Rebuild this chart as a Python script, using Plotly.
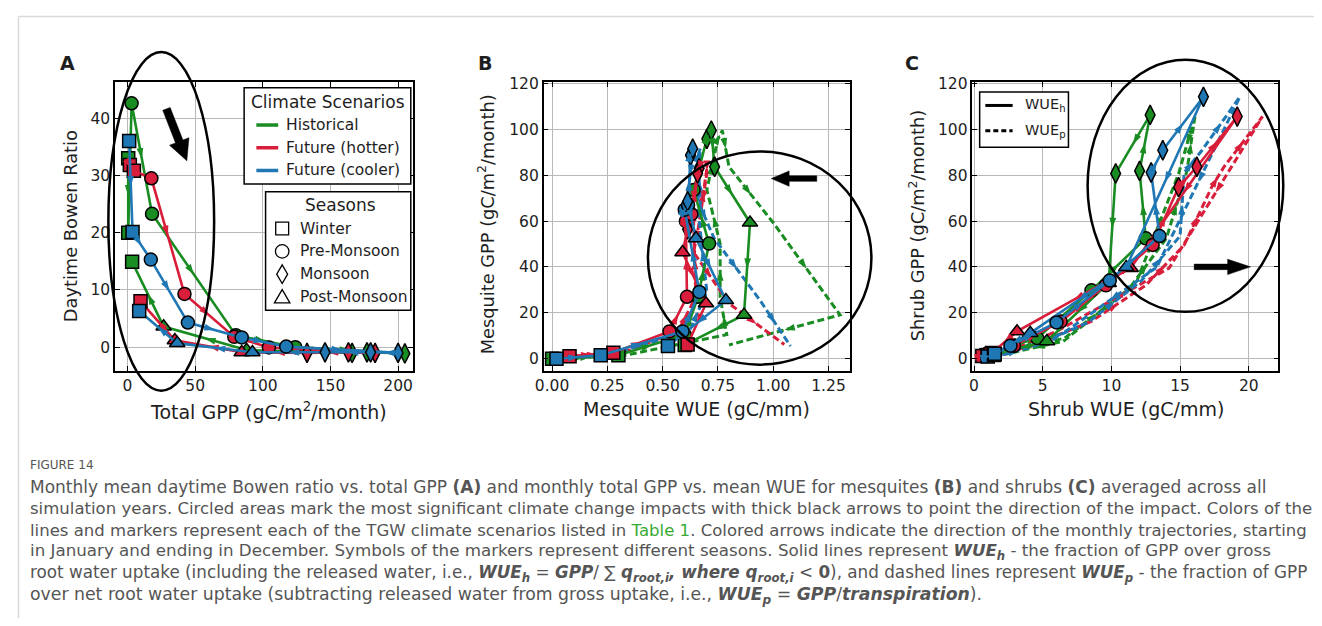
import math
import plotly.graph_objects as go

# page is drawn with the browser's default 8px body margin: build the figure to fill the rest
OX, OY = 8.0, 8.0
FW, FH = 1314, 610

# ---------------- data ----------------
MONTHS = ['Jan', 'Feb', 'Mar', 'Apr', 'May', 'Jun', 'Jul', 'Aug', 'Sep', 'Oct', 'Nov', 'Dec']
SEASONS = ['Winter', 'Winter', 'Pre-Monsoon', 'Pre-Monsoon', 'Pre-Monsoon', 'Pre-Monsoon',
           'Monsoon', 'Monsoon', 'Monsoon', 'Post-Monsoon', 'Post-Monsoon', 'Winter']
SEASON_NAMES = ['Winter', 'Pre-Monsoon', 'Monsoon', 'Post-Monsoon']
SCENARIOS = ['Historical', 'Future (hotter)', 'Future (cooler)']
COLORS = ['#198c22', '#d81e3a', '#1f77b4']

# Panel A: total GPP (x) vs daytime Bowen ratio (y)
a_gpp_hist = [0.5, 0.5, 3.0, 18.1, 80.0, 124.0, 205.0, 177.0, 166.0, 88.0, 26.7, 3.4]
a_bowen_hist = [33.0, 20.0, 42.6, 23.3, 2.1, 0.0, -1.1, -0.9, -1.0, -0.5, 3.6, 14.9]
a_gpp_hot = [1.7, 4.7, 17.6, 42.1, 78.9, 104.5, 183.0, 163.3, 132.7, 84.4, 35.0, 9.6]
a_bowen_hot = [31.8, 30.8, 29.5, 9.3, 1.8, -0.05, -1.0, -0.9, -1.0, -0.9, 1.2, 8.0]
a_gpp_cool = [1.2, 3.7, 17.2, 44.6, 84.4, 117.3, 200.0, 179.7, 146.0, 92.3, 36.7, 8.6]
a_bowen_cool = [36.0, 20.1, 15.3, 4.3, 1.7, 0.1, -1.0, -0.9, -0.9, -0.9, 0.7, 6.3]

# Panel B: mesquite WUE (h: solid, p: dashed) vs mesquite GPP
b_gpp_hist = [0.0, 1.5, 10.5, 27.0, 50.2, 73.6, 95.9, 99.5, 83.7, 59.3, 19.1, 6.0]
b_wueh_hist = [0.00, 0.30, 0.60, 0.66, 0.71, 0.64, 0.70, 0.72, 0.735, 0.895, 0.868, 0.60]
b_wuep_hist = [0.02, 0.33, 0.79, 0.76, 0.76, 0.70, 0.75, 0.77, 0.80, 1.00, 1.302, 0.80]
b_gpp_hot = [1.1, 2.6, 11.9, 27.0, 60.0, 63.0, 83.0, 80.8, 56.4, 46.4, 24.1, 6.2]
b_wueh_hot = [0.079, 0.277, 0.531, 0.61, 0.605, 0.63, 0.665, 0.658, 0.613, 0.59, 0.696, 0.613]
b_wuep_hot = [0.09, 0.32, 0.57, 0.65, 0.64, 0.67, 0.70, 0.70, 0.66, 0.64, 0.80, 1.05]
b_gpp_cool = [0.0, 1.5, 11.9, 29.1, 65.0, 67.0, 88.7, 91.6, 68.6, 52.5, 25.5, 5.5]
b_wueh_cool = [0.02, 0.22, 0.59, 0.666, 0.60, 0.615, 0.626, 0.636, 0.613, 0.651, 0.786, 0.524]
b_wuep_cool = [0.03, 0.25, 0.62, 0.70, 0.66, 0.67, 0.66, 0.67, 0.66, 0.733, 0.94, 1.078]

# Panel C: shrub WUE (h: solid, p: dashed) vs shrub GPP
c_gpp_hist = [1.5, 2.5, 5.8, 9.0, 29.8, 52.5, 81.9, 106.3, 80.8, 33.0, 7.6, 2.0]
c_wueh_hist = [0.9, 1.3, 2.9, 4.6, 8.55, 12.5, 12.05, 12.82, 10.31, 9.8, 5.3, 1.5]
c_wuep_hist = [1.4, 2.2, 4.4, 6.6, 11.2, 14.0, 15.5, 16.1, 14.9, 11.8, 6.5, 2.3]
c_gpp_hot = [1.2, 1.6, 5.7, 16.2, 32.0, 49.6, 74.8, 83.7, 105.6, 39.5, 11.9, 2.0]
c_wueh_hot = [0.6, 1.0, 2.9, 6.3, 9.6, 13.0, 14.89, 16.22, 19.16, 11.4, 3.13, 1.2]
c_wuep_hot = [0.9, 1.6, 4.2, 8.5, 12.5, 15.3, 17.3, 18.2, 21.0, 14.2, 6.0, 2.0]
c_gpp_cool = [1.0, 1.6, 5.7, 15.8, 34.1, 53.5, 81.2, 90.9, 114.2, 39.9, 11.2, 2.2]
c_wueh_cool = [1.0, 1.45, 2.65, 6.0, 9.88, 13.5, 12.89, 13.74, 16.7, 11.08, 4.09, 1.5]
c_wuep_cool = [1.3, 2.0, 4.5, 8.3, 12.2, 15.0, 15.3, 16.6, 19.35, 13.3, 6.5, 2.2]

A_TICKS_X = [0, 50, 100, 150, 200]
A_TICKS_Y = [0, 10, 20, 30, 40]
B_TICKS_X = [0.0, 0.25, 0.5, 0.75, 1.0, 1.25]
GPP_TICKS = [0, 20, 40, 60, 80, 100, 120]
C_TICKS_X = [0, 5, 10, 15, 20]

# ---------------- styles ----------------
SYMBOL = {'Winter': 'square', 'Pre-Monsoon': 'circle', 'Monsoon': 'diamond-tall', 'Post-Monsoon': 'triangle-up'}
MSIZE = {'Winter': 13, 'Pre-Monsoon': 13, 'Monsoon': 14, 'Post-Monsoon': 13.5}
DASH = '7px,3.5px'
TXT = '#1e1e1e'
FONT = 'DejaVu Sans'


def PX(x):
    return (x - OX) / FW


def PY(y):
    return 1 - (y - OY) / FH


fig = go.Figure()


def add_traj(x, y, color, xa, ya, dash='solid', markers=True):
    fig.add_trace(go.Scatter(
        x=x, y=y, mode='lines+markers' if markers else 'lines',
        line=dict(color=color, width=3 if dash != 'solid' else 2.6, dash=dash),
        marker=dict(symbol=[SYMBOL[s] for s in SEASONS], size=[MSIZE[s] for s in SEASONS],
                    color=color, opacity=1, line=dict(color='black', width=1.5)),
        opacity=1, xaxis=xa, yaxis=ya, showlegend=False, hoverinfo='skip'))
    ax, ay, sz = [], [], []
    for i in range(len(x) - 1):
        ax += [x[i], (x[i] + x[i + 1]) / 2]
        ay += [y[i], (y[i] + y[i + 1]) / 2]
        sz += [0, 11]
    fig.add_trace(go.Scatter(
        x=ax, y=ay, mode='markers',
        marker=dict(symbol='arrow', size=sz, color=color, opacity=1, angleref='previous', line=dict(width=0)),
        xaxis=xa, yaxis=ya, showlegend=False, hoverinfo='skip'))


# Panel A
for gx, by, col in [(a_gpp_hist, a_bowen_hist, COLORS[0]), (a_gpp_hot, a_bowen_hot, COLORS[1]),
                    (a_gpp_cool, a_bowen_cool, COLORS[2])]:
    add_traj(gx, by, col, 'x', 'y')

# Panel B: dashed first, then solid
for wp, gy, col in [(b_wuep_hist, b_gpp_hist, COLORS[0]), (b_wuep_hot, b_gpp_hot, COLORS[1]),
                    (b_wuep_cool, b_gpp_cool, COLORS[2])]:
    add_traj(wp, gy, col, 'x2', 'y2', dash=DASH, markers=False)
for wh, gy, col in [(b_wueh_hist, b_gpp_hist, COLORS[0]), (b_wueh_hot, b_gpp_hot, COLORS[1]),
                    (b_wueh_cool, b_gpp_cool, COLORS[2])]:
    add_traj(wh, gy, col, 'x2', 'y2')

# Panel C
for wp, gy, col in [(c_wuep_hist, c_gpp_hist, COLORS[0]), (c_wuep_hot, c_gpp_hot, COLORS[1]),
                    (c_wuep_cool, c_gpp_cool, COLORS[2])]:
    add_traj(wp, gy, col, 'x3', 'y3', dash=DASH, markers=False)
for wh, gy, col in [(c_wueh_hist, c_gpp_hist, COLORS[0]), (c_wueh_hot, c_gpp_hot, COLORS[1]),
                    (c_wueh_cool, c_gpp_cool, COLORS[2])]:
    add_traj(wh, gy, col, 'x3', 'y3')

# ---------------- axes ----------------
ax_common = dict(showline=True, linecolor='black', linewidth=1.5, mirror='ticks', ticks='inside',
                 ticklen=5, tickwidth=1.2, tickcolor='black', showgrid=True, gridcolor='#b8b8b8',
                 gridwidth=1, zeroline=False, tickfont=dict(family=FONT, size=15.5, color=TXT))

ydom = [PY(368), PY(76)]
fig.update_layout(
    xaxis=dict(ax_common, domain=[PX(106.7), PX(406.7)], range=[-9.25, 211.0], anchor='y',
               tickvals=A_TICKS_X),
    yaxis=dict(ax_common, domain=ydom, range=[-4.14, 46.28], anchor='x', tickvals=A_TICKS_Y),
    xaxis2=dict(ax_common, domain=[PX(538.3), PX(846.7)], range=[-0.038, 1.347], anchor='y2',
                tickvals=B_TICKS_X, tickformat='.2f'),
    yaxis2=dict(ax_common, domain=ydom, range=[-5.3, 120.56], anchor='x2', tickvals=GPP_TICKS),
    xaxis3=dict(ax_common, domain=[PX(970.0), PX(1278.0)], range=[-0.12, 22.15], anchor='y3',
                tickvals=C_TICKS_X),
    yaxis3=dict(ax_common, domain=ydom, range=[-5.3, 120.56], anchor='x3', tickvals=GPP_TICKS),
)

# ---------------- shapes ----------------
shapes = []
# card border
shapes.append(dict(type='line', xref='paper', yref='paper', x0=PX(9.5), x1=PX(1340), y0=PY(9.5), y1=PY(9.5),
                   line=dict(color='#d9d9d9', width=1.5)))
shapes.append(dict(type='line', xref='paper', yref='paper', x0=PX(9.5), x1=PX(9.5), y0=PY(9.5), y1=PY(660),
                   line=dict(color='#d9d9d9', width=1.5)))


def ellipse(x0, y0, x1, y1):
    shapes.append(dict(type='circle', xref='paper', yref='paper', x0=PX(x0), x1=PX(x1), y0=PY(y1), y1=PY(y0),
                       line=dict(color='black', width=2.5), layer='above'))


ellipse(100.0, 45.5, 206.5, 388.0)
ellipse(643.3, 146.0, 868.3, 361.7)
ellipse(1086.0, 53.3, 1283.0, 308.3)


def big_arrow(tail, tip, shw, hhw, hl):
    dx, dy = tip[0] - tail[0], tip[1] - tail[1]
    L = math.hypot(dx, dy)
    ux, uy = dx / L, dy / L
    nx, ny = -uy, ux
    nk = (tip[0] - ux * hl, tip[1] - uy * hl)
    pts = [(tail[0] + nx * shw, tail[1] + ny * shw), (nk[0] + nx * shw, nk[1] + ny * shw),
           (nk[0] + nx * hhw, nk[1] + ny * hhw), tip,
           (nk[0] - nx * hhw, nk[1] - ny * hhw), (nk[0] - nx * shw, nk[1] - ny * shw),
           (tail[0] - nx * shw, tail[1] - ny * shw)]
    path = 'M ' + ' L '.join(f'{PX(px):.5f},{PY(py):.5f}' for px, py in pts) + ' Z'
    shapes.append(dict(type='path', xref='paper', yref='paper', path=path, fillcolor='black',
                       line=dict(color='black', width=0.5), layer='above'))


big_arrow((158.5, 103.0), (179.0, 155.5), 4.0, 10.5, 21.0)
big_arrow((813.3, 173.5), (767.5, 173.5), 2.8, 7.8, 18.0)
big_arrow((1193.3, 262.8), (1250.0, 262.8), 2.8, 7.8, 23.0)


def box(x0, y0, x1, y1):
    shapes.append(dict(type='rect', xref='paper', yref='paper', x0=PX(x0), x1=PX(x1), y0=PY(y1), y1=PY(y0),
                       line=dict(color='black', width=1.5), fillcolor='white', layer='above'))


def hline(x0, x1, y, color, width, dash='solid'):
    shapes.append(dict(type='line', xref='paper', yref='paper', x0=PX(x0), x1=PX(x1), y0=PY(y), y1=PY(y),
                       line=dict(color=color, width=width, dash=dash), layer='above'))


annotations = []


def text(x, y, s, size=15, xanchor='left', family=FONT, color=TXT, angle=0, yanchor='middle'):
    annotations.append(dict(x=PX(x), y=PY(y), xref='paper', yref='paper', text=s, showarrow=False,
                            xanchor=xanchor, yanchor=yanchor, textangle=angle, borderpad=0,
                            font=dict(family=family, size=size, color=color)))


# legend: climate scenarios
box(236.7, 81.7, 404.5, 179.0)
text(321.5, 96.0, 'Climate Scenarios', size=17, xanchor='center')
for i, (name, col) in enumerate(zip(SCENARIOS, COLORS)):
    yy = 119.3 + i * 23.0
    hline(249.0, 271.0, yy, col, 3.5)
    text(278.3, yy, name, size=15.5)

# legend: seasons
box(258.3, 186.7, 404.5, 306.7)
text(333.3, 200.0, 'Seasons', size=17, xanchor='center')
for i, sname in enumerate(SEASON_NAMES):
    yy = 224.0 + i * 23.1
    cx = 275.0
    if sname == 'Winter':
        shapes.append(dict(type='rect', xref='paper', yref='paper', x0=PX(cx - 6.5), x1=PX(cx + 6.5),
                           y0=PY(yy + 6.5), y1=PY(yy - 6.5), line=dict(color='black', width=1.3),
                           fillcolor='white', layer='above'))
    elif sname == 'Pre-Monsoon':
        shapes.append(dict(type='circle', xref='paper', yref='paper', x0=PX(cx - 6.8), x1=PX(cx + 6.8),
                           y0=PY(yy + 6.8), y1=PY(yy - 6.8), line=dict(color='black', width=1.3),
                           fillcolor='white', layer='above'))
    elif sname == 'Monsoon':
        pts = [(cx, yy - 9.5), (cx + 5.5, yy), (cx, yy + 9.5), (cx - 5.5, yy)]
        shapes.append(dict(type='path', xref='paper', yref='paper',
                           path='M ' + ' L '.join(f'{PX(a):.5f},{PY(b):.5f}' for a, b in pts) + ' Z',
                           line=dict(color='black', width=1.3), fillcolor='white', layer='above'))
    else:
        pts = [(cx, yy - 7.5), (cx + 7.8, yy + 6.0), (cx - 7.8, yy + 6.0)]
        shapes.append(dict(type='path', xref='paper', yref='paper',
                           path='M ' + ' L '.join(f'{PX(a):.5f},{PY(b):.5f}' for a, b in pts) + ' Z',
                           line=dict(color='black', width=1.3), fillcolor='white', layer='above'))
    text(292.3, yy, sname, size=15.5)

# legend: WUE types (panel C)
box(977.3, 86.0, 1066.7, 141.7)
hline(983.0, 1010.5, 99.5, 'black', 3)
hline(983.0, 1010.5, 125.0, 'black', 3, dash='5px,3px')
text(1022.0, 99.5, 'WUE<sub>h</sub>', size=14.5)
text(1022.0, 125.0, 'WUE<sub>p</sub>', size=14.5)

# panel letters
text(59.0, 57.0, '<b>A</b>', size=19, xanchor='center')
text(479.0, 57.0, '<b>B</b>', size=19, xanchor='center')
text(909.5, 57.0, '<b>C</b>', size=19, xanchor='center')

# axis titles
text(261.7, 408.5, 'Total GPP (gC/m<sup>2</sup>/month)', size=19, xanchor='center')
text(62.0, 222.0, 'Daytime Bowen Ratio', size=17.8, xanchor='center', angle=-90)
text(692.3, 407.0, 'Mesquite WUE (gC/mm)', size=19, xanchor='center')
text(480.0, 220.0, 'Mesquite GPP (gC/m<sup>2</sup>/month)', size=17.8, xanchor='center', angle=-90)
text(1125.0, 407.0, 'Shrub WUE (gC/mm)', size=19, xanchor='center')
text(913.3, 221.7, 'Shrub GPP (gC/m<sup>2</sup>/month)', size=17.8, xanchor='center', angle=-90)

# caption
CAP = '#555555'
CF = 'DejaVu Sans'
text(20.0, 463.0, 'FIGURE 14', size=12, family=CF, color=CAP)
cap_lines = [
    'Monthly mean daytime Bowen ratio vs. total GPP <b>(A)</b> and monthly total GPP vs. mean WUE for mesquites '
    '<b>(B)</b> and shrubs <b>(C)</b> averaged across all',
    'simulation years. Circled areas mark the most significant climate change impacts with thick black arrows '
    'to point the direction of the impact. Colors of the',
    "lines and markers represent each of the TGW climate scenarios listed in "
    "<span style='color:#3aaa35'>Table 1</span>. Colored arrows indicate the direction of the monthly "
    "trajectories, starting",
    'in January and ending in December. Symbols of the markers represent different seasons. Solid lines '
    'represent <b><i>WUE<sub>h</sub></i></b> - the fraction of GPP over gross',
    'root water uptake (including the released water, i.e., <b><i>WUE<sub>h</sub></i></b> = <b><i>GPP</i></b>/ '
    '\u2211 <b><i>q<sub>root,i</sub>, where q<sub>root,i</sub></i></b> &lt; <b>0</b>), and dashed lines represent '
    '<b><i>WUE<sub>p</sub></i></b> - the fraction of GPP',
    'over net root water uptake (subtracting released water from gross uptake, i.e., '
    '<b><i>WUE<sub>p</sub></i></b> = <b><i>GPP</i></b>/<b><i>transpiration</i></b>).',
]
cap_sizes = [17.0, 16.55, 16.55, 16.7, 16.8, 17.3]
for i, (line, sz) in enumerate(zip(cap_lines, cap_sizes)):
    text(20.0, 485.0 + i * 22.0, line, size=sz, family=CF, color=CAP)

fig.update_layout(
    width=FW, height=FH, margin=dict(l=0, r=0, t=0, b=0), autosize=False,
    paper_bgcolor='white', plot_bgcolor='white', showlegend=False,
    shapes=shapes, annotations=annotations,
)

fig.write_html("out.html", config={'displayModeBar': False})
